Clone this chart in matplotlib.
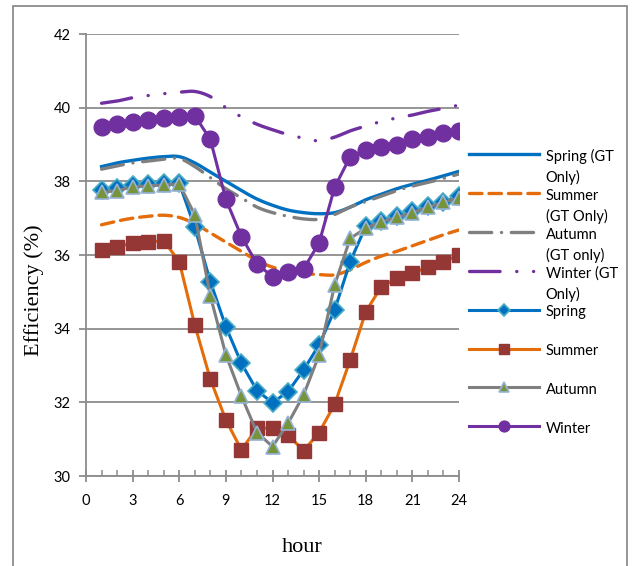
import numpy as np
import matplotlib.pyplot as plt
from matplotlib.patches import Rectangle

plt.rcParams['font.family'] = ['Lato', 'DejaVu Sans']
plt.rcParams['lines.scale_dashes'] = False

hours = list(range(1, 25))

# GT only (smooth lines)
spring_gt = [38.40, 38.50, 38.57, 38.63, 38.67, 38.67, 38.50, 38.25, 38.00, 37.75, 37.52, 37.35,
             37.22, 37.15, 37.12, 37.15, 37.30, 37.50, 37.65, 37.80, 37.92, 38.03, 38.15, 38.27]
summer_gt = [36.82, 36.92, 37.00, 37.05, 37.08, 37.02, 36.85, 36.60, 36.35, 36.10, 35.85, 35.67,
             35.57, 35.50, 35.47, 35.46, 35.60, 35.80, 35.97, 36.10, 36.25, 36.40, 36.55, 36.68]
autumn_gt = [38.33, 38.42, 38.50, 38.55, 38.60, 38.62, 38.40, 38.10, 37.80, 37.55, 37.30, 37.15,
             37.05, 36.98, 36.97, 37.10, 37.30, 37.45, 37.60, 37.75, 37.87, 37.97, 38.08, 38.20]
winter_gt = [40.12, 40.18, 40.27, 40.33, 40.38, 40.42, 40.44, 40.30, 40.00, 39.75, 39.55, 39.40,
             39.27, 39.17, 39.10, 39.20, 39.37, 39.50, 39.63, 39.72, 39.80, 39.90, 39.98, 40.07]

# with markers
spring = [37.77, 37.81, 37.90, 37.93, 37.95, 37.95, 36.75, 35.28, 34.05, 33.06, 32.32, 31.99,
          32.29, 32.88, 33.56, 34.51, 35.82, 36.78, 36.93, 37.07, 37.20, 37.32, 37.45, 37.60]
summer = [36.14, 36.23, 36.32, 36.35, 36.39, 35.82, 34.10, 32.63, 31.52, 30.71, 31.30, 31.30,
          31.11, 30.69, 31.18, 31.95, 33.15, 34.46, 35.14, 35.37, 35.50, 35.68, 35.82, 36.00]
autumn = [37.70, 37.75, 37.85, 37.88, 37.90, 37.93, 37.09, 34.89, 33.29, 32.17, 31.18, 30.80,
          31.43, 32.20, 33.29, 35.19, 36.45, 36.73, 36.90, 37.02, 37.15, 37.30, 37.43, 37.55]
winter = [39.47, 39.55, 39.62, 39.67, 39.71, 39.74, 39.78, 39.14, 37.51, 36.50, 35.76, 35.41,
          35.55, 35.62, 36.33, 37.84, 38.67, 38.85, 38.92, 39.00, 39.15, 39.21, 39.30, 39.37]

# legend labels: first line, second line
labels = [('Spring (GT', 'Only)'), ('Summer', '(GT Only)'), ('Autumn', '(GT only)'),
          ('Winter (GT', 'Only)'), ('Spring', ''), ('Summer', ''), ('Autumn', ''), ('Winter', '')]


def smooth(x, y, n=12):
    # catmull-rom through the points, like Excel's smoothed line
    x = np.asarray(x, float)
    y = np.asarray(y, float)
    px = np.concatenate([[2 * x[0] - x[1]], x, [2 * x[-1] - x[-2]]])
    py = np.concatenate([[2 * y[0] - y[1]], y, [2 * y[-1] - y[-2]]])
    xs, ys = [], []
    t = np.linspace(0, 1, n, endpoint=False)
    for i in range(1, len(px) - 2):
        for arr, out in ((px, xs), (py, ys)):
            p0, p1, p2, p3 = arr[i - 1], arr[i], arr[i + 1], arr[i + 2]
            out.extend(0.5 * (2 * p1 + (-p0 + p2) * t + (2 * p0 - 5 * p1 + 4 * p2 - p3) * t ** 2
                              + (-p0 + 3 * p1 - 3 * p2 + p3) * t ** 3))
    xs.append(x[-1])
    ys.append(y[-1])
    return xs, ys


fig = plt.figure(figsize=(6.43, 5.66), dpi=100)
ax = fig.add_axes([86 / 643, 1 - 476 / 566, (459 - 86) / 643, (476 - 34) / 566])

# chart border
fig.patches.append(Rectangle((13 / 643, -0.1), (627 - 13) / 643, 1.1 - 6 / 566,
                             transform=fig.transFigure, fill=False, ec='#8c8c8c', lw=1.3))

blue = '#0070C0'
orange = '#E46C0A'
gray = '#7F7F7F'
purple = '#7030A0'

ax.plot(*smooth(hours, spring_gt), color=blue, lw=2.4, label=labels[0][0])
ax.plot(*smooth(hours, summer_gt), color=orange, lw=2.4, dashes=(9, 5), dash_capstyle='round',
        label=labels[1][0])
ax.plot(*smooth(hours, autumn_gt), color=gray, lw=2.4, dashes=(16, 7, 0.1, 7),
        dash_capstyle='round', label=labels[2][0])
ax.plot(*smooth(hours, winter_gt), color=purple, lw=2.4, dashes=(22, 12, 0.1, 12, 0.1, 12),
        dash_capstyle='round', label=labels[3][0])

ax.plot(hours, spring, color=blue, lw=2.2, marker='D', ms=9, mfc=blue, mec='#4BACC6', mew=1.2,
        label=labels[4][0])
ax.plot(hours, summer, color=orange, lw=2.2, marker='s', ms=10, mfc='#953735', mec='#953735',
        label=labels[5][0])
ax.plot(hours, autumn, color=gray, lw=2.2, marker='^', ms=10, mfc='#77933C', mec='#95B3D7', mew=1.2,
        label=labels[6][0])
ax.plot(hours, winter, color=purple, lw=2.2, marker='o', ms=12, mfc=purple, mec=purple,
        label=labels[7][0])

ax.set_xlim(0, 24)
ax.set_ylim(30, 42)
ax.set_xticks(range(0, 25, 3))
ax.set_xticks(range(0, 25), minor=True)
ax.set_yticks(range(30, 43, 2))
ax.grid(axis='y', color='#8c8c8c', lw=1.3)
ax.set_axisbelow(True)
for s in ['top', 'right']:
    ax.spines[s].set_visible(False)
for s in ['left', 'bottom']:
    ax.spines[s].set_color('#8c8c8c')
    ax.spines[s].set_linewidth(1.3)
ax.tick_params(axis='x', which='major', direction='inout', length=8, width=1.3, color='#8c8c8c',
               labelsize=10.5, pad=9)
ax.tick_params(axis='x', which='minor', direction='in', length=4, width=1.1, color='#8c8c8c')
ax.tick_params(axis='y', which='major', direction='out', length=5, width=1.3, color='#8c8c8c',
               labelsize=10.5, pad=6)

fig.text(302 / 643, 1 - 547 / 566, 'hour', family='Liberation Serif', fontsize=16,
         ha='center', va='center')
fig.text(34 / 643, 1 - 290 / 566, 'Efficiency (%)', family='Liberation Serif', fontsize=16,
         rotation=90, ha='center', va='center')

leg = ax.legend(loc='upper left', bbox_to_anchor=(469 / 643, 1 - 147 / 566),
                bbox_transform=fig.transFigure, frameon=False, fontsize=10.5, markerscale=0.65,
                handlelength=4.8, handleheight=1.5, handletextpad=0.45, labelspacing=1.45,
                borderaxespad=0, borderpad=0)

# second lines of the wrapped legend labels
fig.canvas.draw()
inv = fig.transFigure.inverted()
for t, (first, second) in zip(leg.get_texts(), labels):
    if second:
        bb = t.get_window_extent()
        x0, y0 = inv.transform((bb.x0, bb.y0 - 21))
        fig.text(x0, y0, second, fontsize=10.5, ha='left', va='bottom')

fig.savefig('out.png', dpi=100)
